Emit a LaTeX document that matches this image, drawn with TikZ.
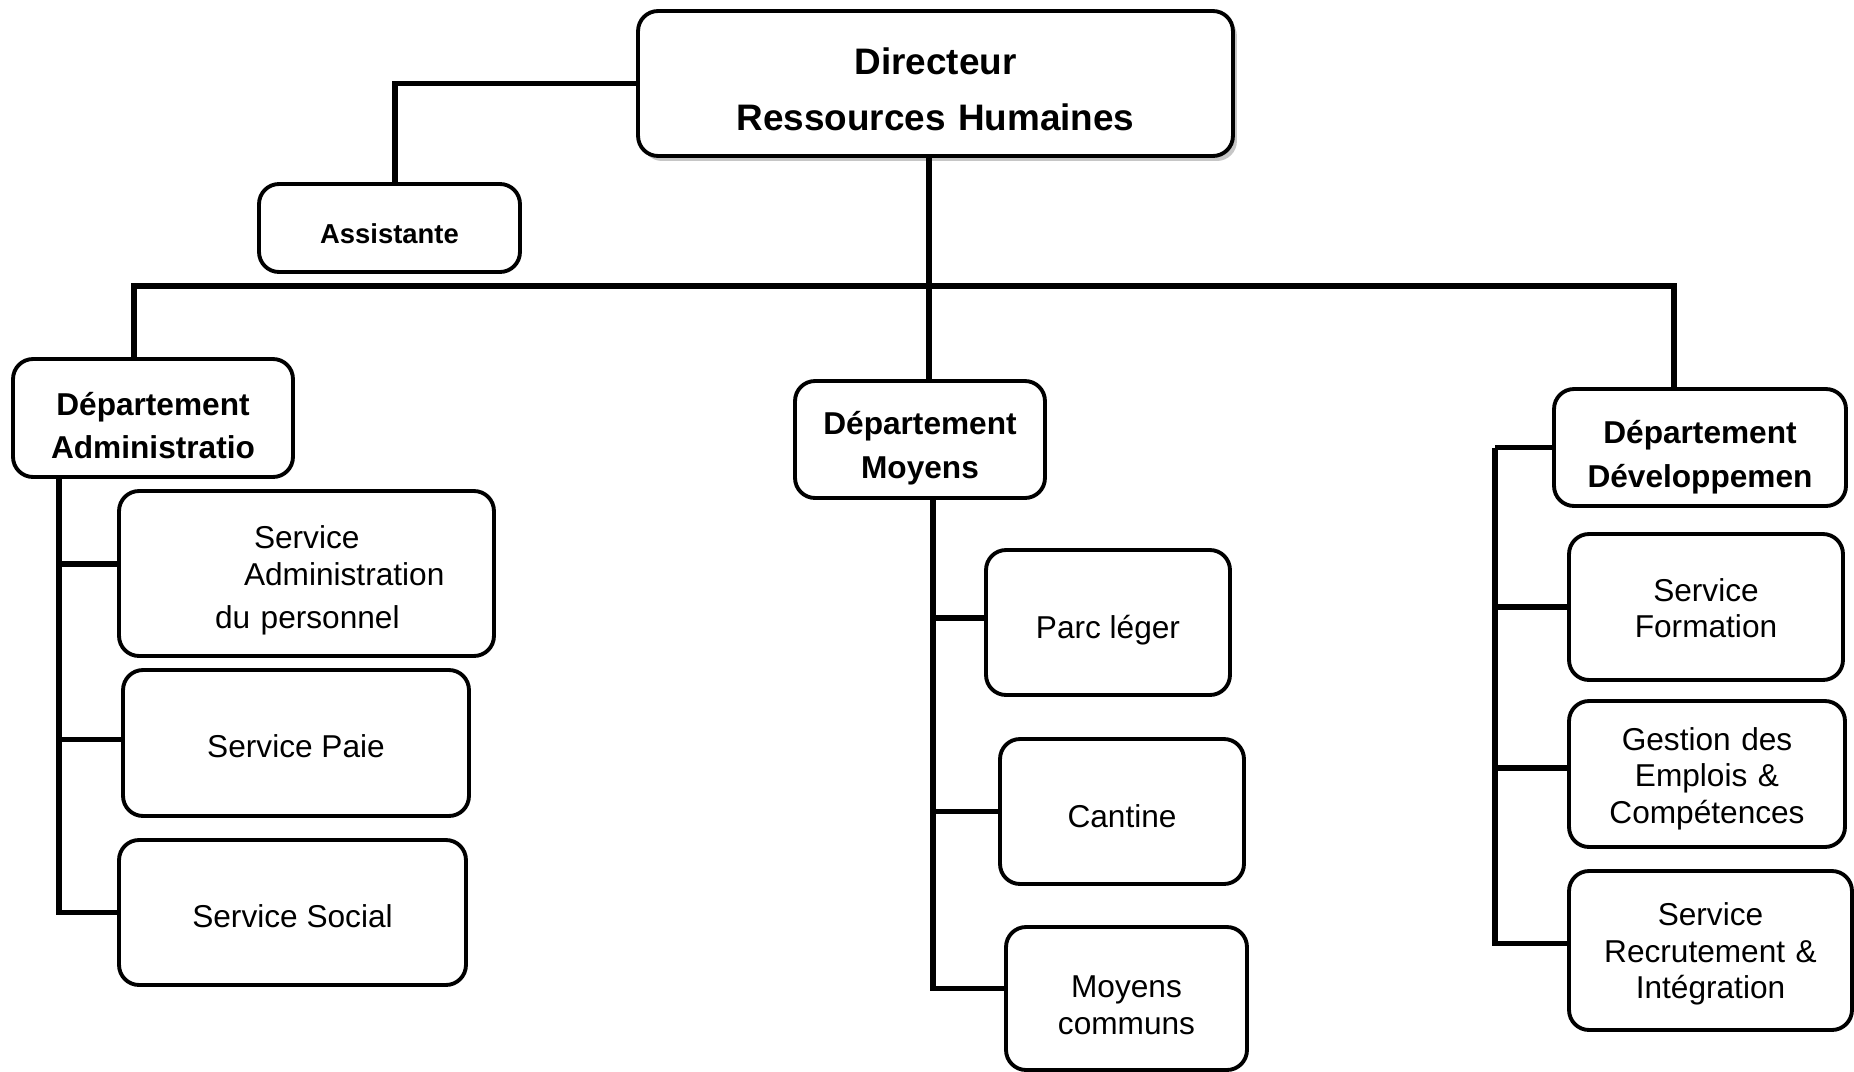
\documentclass[tikz,border=0pt]{standalone}
\usepackage{fontspec}
\setmainfont{Liberation Sans}
\usetikzlibrary{shadows}
\begin{document}
\begin{tikzpicture}[x=0.02cm, y=-0.02cm,
    box/.style={draw, line width=2.2pt, rounded corners=0.4cm, fill=white, align=center, inner sep=2pt, text height=18.5pt, font=\fontsize{18}{20.8}\selectfont},
    dept/.style={box, text height=23pt, font=\fontsize{18}{24.8}\selectfont\bfseries},
    wd/.style={minimum width=#1, text width=#1-0.4cm},
    conn/.style={line width=3.4pt}]
    \useasboundingbox (0,0) rectangle (1854,1072);

    \node[box, wd=11.9cm, minimum height=2.9cm, text height=21.8pt, font=\fontsize{21}{31.6}\selectfont\bfseries,
      drop shadow={opacity=0.45, shadow xshift=0.08cm, shadow yshift=-0.1cm}] (dir) at (935.5, 83.5) {Directeur\\Ressources Humaines};
    \node[box, minimum width=5.22cm, minimum height=1.76cm, text height=18.2pt, font=\fontsize{15.6}{18}\selectfont\bfseries] (asst) at (389.5, 228) {Assistante};

    \node[dept, wd=5.6cm, minimum height=2.36cm, text height=22pt] (dadm) at (153, 418) {Département\\Administratio};
    \node[dept, wd=5.0cm, minimum height=2.34cm] (dmoy) at (920, 439.5) {Département\\Moyens};
    \node[dept, wd=5.84cm, minimum height=2.34cm, text height=24pt] (ddev) at (1700, 447.5) {Département\\Développemen};

    \node[box, minimum width=7.5cm, minimum height=3.3cm, text width=7.5cm, inner sep=0pt, text height=20.6pt, align=left] (sadm) at (306.5, 573.5)
      {\hspace*{2.7cm}Service\\[0.4pt]\hspace*{2.5cm}Administration\\[3.7pt]\hspace*{1.92cm}du personnel};
    \node[box, minimum width=6.92cm, minimum height=2.92cm, text height=17pt] (spaie) at (296, 743) {Service Paie};
    \node[box, minimum width=6.94cm, minimum height=2.9cm, text height=17pt] (ssoc) at (292.5, 912.5) {Service Social};

    \node[box, minimum width=4.88cm, minimum height=2.9cm, text height=22.5pt] (parc) at (1108, 622.5) {Parc léger};
    \node[box, minimum width=4.88cm, minimum height=2.9cm] (cant) at (1122, 811.5) {Cantine};
    \node[box, wd=4.82cm, minimum height=2.86cm, text height=20pt] (mcom) at (1126.5, 998.5) {Moyens\\communs};

    \node[box, wd=5.48cm, minimum height=2.92cm, text height=14.5pt] (sform) at (1706, 607) {Service\\Formation};
    \node[box, wd=5.52cm, minimum height=2.92cm] (sgest) at (1707, 774) {Gestion des\\Emplois \&\\Compétences};
    \node[box, wd=5.66cm, minimum height=3.18cm, text height=17pt] (srec) at (1710.5, 950.5) {Service\\Recrutement \&\\Intégration};

    \coordinate (busL) at (134, 286);
    \coordinate (mid) at (929, 286);
    \coordinate (busR) at (1674, 286);
    \coordinate (tA) at (59, 477);
    \coordinate (tM) at (933, 498);
    \coordinate (tD) at (1495, 447.5);

    \draw[conn] (dir.west) -| ([xshift=0.11cm]asst.north);
    \draw[conn] (mid |- dir.south) -- (mid |- dmoy.north);
    \draw[conn] (busL |- dadm.north) -- (busL) -- (busR) -- (busR |- ddev.north);

    \draw[conn] (tA) |- ([yshift=0.19cm]sadm.west);
    \draw[conn] (tA) |- ([yshift=0.07cm]spaie.west);
    \draw[conn] (tA) |- (ssoc.west);

    \draw[conn] (tM) |- ([yshift=0.09cm]parc.west);
    \draw[conn] (tM) |- (cant.west);
    \draw[conn] (tM) |- ([yshift=0.2cm]mcom.west);

    \draw[conn] (ddev.west) -- (tD);
    \draw[conn] (tD) |- (sform.west);
    \draw[conn] (tD) |- ([yshift=0.12cm]sgest.west);
    \draw[conn] (tD) |- ([yshift=0.14cm]srec.west);
\end{tikzpicture}
\end{document}
